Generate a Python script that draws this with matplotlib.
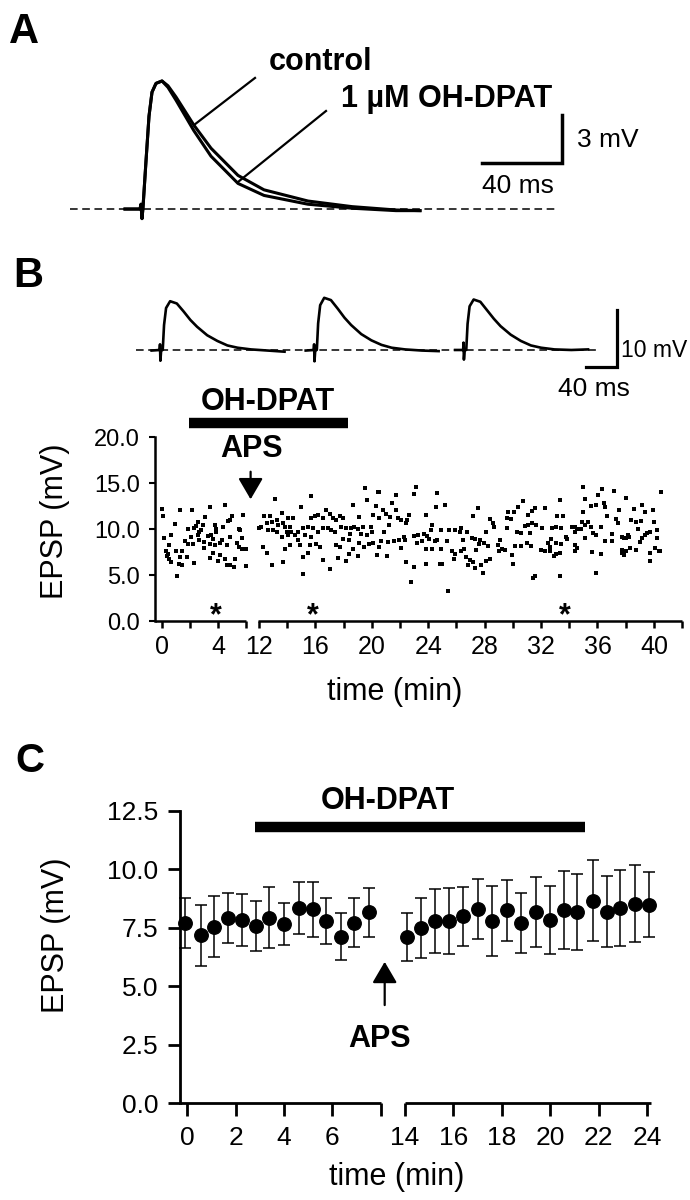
import matplotlib.pyplot as plt

plt.rcParams['font.family'] = ['Liberation Sans', 'DejaVu Sans']

# ---------------- data ----------------
# A: averaged EPSPs, time (ms) relative to the stimulus, amplitude (mV)
a_time = [-8, -0.5, 0, 0.5, 1.0, 2.5, 4, 5.5, 7.5, 10.5, 13.5, 17.5, 26.4, 35, 48.5, 61.5,
          83.5, 105.5, 127.5, 139.5]
a_control = [0, 0, 0.3, -0.6, 0.1, 3.0, 5.8, 7.3, 7.85, 8.0, 7.7, 7.0, 5.25, 3.8, 2.1, 1.2,
             0.5, 0.15, -0.06, -0.1]
a_dpat = [0, 0, 0.3, -0.6, 0.1, 3.0, 5.8, 7.3, 7.85, 8.0, 7.6, 6.8, 4.9, 3.3, 1.6, 0.85,
          0.3, 0.05, -0.1, -0.1]

# B: three sample sweeps
bt_time = [-10.8, -0.5, 0, 0.5, 1.5, 3.5, 5.2, 7.8, 13, 21.6, 30.3, 39, 47.6, 60.6, 73.6,
           86.6, 99.6, 116.9, 138.5, 160]
bt_sweep1 = [-0.1, 0, 1.0, -1.9, 0, 0, 4.4, 7.4, 8.6, 8.2, 6.8, 5.3, 4.1, 2.6, 1.6, 0.8, 0.4, 0.1, -0.1, -0.3]
bt_sweep2 = [-0.1, 0, 1.0, -2.0, 0, 0, 4.7, 7.9, 9.2, 8.8, 7.3, 5.7, 4.4, 2.8, 1.7, 0.9, 0.4, 0.1, -0.1, -0.2]
bt_sweep3 = [0, 0, 1.3, -1.7, 0, 0, 4.6, 7.7, 8.9, 8.5, 7.0, 5.5, 4.2, 2.7, 1.6, 0.8, 0.4, 0.1, 0.0, 0.1]
bt_offsets = [0, 198, 390]

# B: single EPSPs (time min, EPSP mV)
b_pts_0_6 = [
    (0.05, 12.2), (0.12, 11.4), (1.26, 12.1), (2.11, 12.1), (3.44, 12.4), (4.48, 12.6), (5.77, 11.6),
    (4.97, 11.5), (4.85, 11.0), (4.68, 10.9), (3.10, 11.3), (0.92, 10.6), (2.55, 10.8), (2.42, 10.4),
    (2.91, 10.5), (1.87, 10.0), (2.30, 10.1), (2.79, 9.9), (3.76, 10.5), (3.88, 10.0), (4.36, 10.3),
    (5.45, 10.0), (5.58, 9.9), (0.19, 9.1), (0.68, 9.4), (2.06, 9.2), (2.55, 9.4), (3.27, 9.3),
    (3.52, 9.4), (3.64, 9.0), (4.24, 8.8), (4.85, 9.2), (5.70, 9.1), (0.53, 8.3), (1.65, 8.7),
    (1.89, 8.4), (2.18, 8.4), (2.67, 8.8), (3.03, 8.6), (3.39, 8.4), (3.76, 8.3), (4.12, 8.5),
    (4.61, 8.3), (5.33, 8.5), (5.45, 8.1), (5.70, 7.9), (5.95, 7.9), (0.29, 7.6), (0.44, 7.3),
    (1.02, 7.6), (1.45, 7.6), (1.82, 7.0), (3.03, 8.0), (3.64, 7.4), (3.39, 6.9), (4.12, 7.2),
    (4.48, 6.8), (5.21, 6.8), (0.53, 6.8), (0.68, 6.4), (1.26, 7.0), (1.21, 6.2), (1.45, 6.1),
    (2.30, 6.3), (4.00, 6.6), (4.61, 6.1), (4.85, 6.1), (5.09, 5.9), (5.94, 6.0), (1.09, 4.9),
    (0.36, 7.1), (2.67, 9.7), (3.88, 9.7),
]
b_pts_12_18 = [
    (13.13, 13.3), (15.71, 13.6), (14.96, 12.4), (13.65, 11.8), (12.38, 11.4), (12.78, 11.5),
    (12.14, 10.3), (12.54, 10.7), (12.89, 10.8), (13.25, 11.0), (13.36, 10.5), (13.72, 10.7),
    (14.07, 11.2), (14.42, 11.2), (13.83, 10.2), (14.19, 10.3), (12.66, 9.9), (13.01, 9.9),
    (13.25, 9.7), (13.60, 9.2), (13.95, 9.7), (14.30, 9.7), (14.54, 9.4), (14.77, 9.7),
    (15.12, 10.1), (15.48, 10.3), (15.71, 11.2), (15.95, 11.4), (16.18, 11.6), (16.53, 11.2),
    (16.77, 12.1), (17.00, 11.7), (17.24, 11.2), (17.47, 11.0), (17.71, 11.4), (17.94, 11.2),
    (15.83, 10.1), (16.18, 9.7), (16.53, 10.1), (16.89, 10.1), (17.12, 9.9), (17.36, 9.7),
    (17.82, 10.3), (15.24, 9.4), (15.71, 9.2), (14.07, 9.4), (14.77, 8.8), (14.89, 8.3),
    (12.31, 8.1), (12.54, 7.4), (13.83, 7.9), (14.19, 8.3), (15.59, 8.3), (16.06, 8.4),
    (16.30, 8.1), (17.47, 8.3), (17.71, 8.1), (17.94, 9.0), (15.12, 7.0), (15.48, 7.4),
    (12.89, 6.1), (13.72, 6.4), (16.53, 6.7), (17.00, 5.7), (17.59, 6.9), (15.12, 5.1), (12.00, 10.1),
]
b_pts_18_25 = [
    (19.54, 14.5), (20.41, 14.1), (20.52, 14.0), (21.70, 13.7), (23.11, 14.6), (22.99, 13.8),
    (24.63, 13.9), (19.63, 13.2), (21.46, 12.9), (18.69, 12.6), (20.29, 12.5), (20.76, 12.1),
    (20.10, 11.6), (21.00, 11.7), (21.70, 12.1), (24.52, 12.4), (23.86, 11.6), (19.12, 11.3),
    (20.48, 11.2), (21.28, 11.3), (21.82, 11.2), (22.05, 11.0), (22.52, 11.0), (22.64, 11.6),
    (22.40, 10.7), (21.18, 10.5), (24.23, 10.5), (18.18, 10.1), (18.53, 10.1), (18.76, 10.2),
    (19.00, 10.0), (19.35, 10.3), (19.94, 10.2), (20.01, 9.7), (19.23, 9.5), (19.63, 9.4),
    (18.46, 9.5), (20.88, 9.7), (24.16, 9.9), (22.99, 9.3), (23.29, 9.4), (23.69, 9.5),
    (23.93, 9.3), (24.04, 9.0), (22.28, 9.2), (22.36, 8.8), (21.93, 8.8), (22.05, 8.0),
    (18.41, 8.8), (19.07, 8.5), (19.47, 8.1), (19.82, 8.4), (20.06, 8.5), (20.52, 8.1),
    (20.64, 8.7), (21.11, 8.6), (21.58, 8.7), (23.22, 8.5), (23.53, 8.7), (23.81, 7.9),
    (24.23, 7.9), (24.47, 8.7), (24.63, 8.8), (18.65, 7.9), (18.37, 7.3), (18.18, 6.6),
    (19.00, 7.1), (20.34, 7.2), (21.04, 7.1), (22.40, 6.4), (22.99, 5.9), (23.81, 6.2),
    (22.76, 4.3), (24.86, 6.2),
]
b_pts_25_31 = [
    (25.22, 12.6), (27.52, 12.3), (27.17, 11.4), (30.69, 13.1), (30.34, 12.4), (29.68, 11.9),
    (30.08, 11.9), (28.39, 11.1), (28.58, 10.7), (29.61, 11.2), (29.85, 11.1), (31.09, 11.6),
    (31.39, 12.0), (24.87, 9.9), (25.45, 9.9), (25.92, 9.9), (26.32, 10.1), (26.23, 9.7),
    (26.74, 9.7), (28.11, 9.7), (28.67, 10.2), (29.56, 10.1), (30.27, 9.7), (30.55, 9.6),
    (30.85, 10.4), (31.09, 10.5), (31.39, 10.7), (31.21, 9.6), (27.10, 9.1), (27.33, 8.9),
    (27.64, 8.8), (27.92, 8.5), (28.27, 8.2), (25.34, 8.7), (26.46, 8.8), (24.87, 7.9),
    (25.69, 7.6), (25.92, 7.3), (26.32, 7.6), (26.56, 7.9), (25.81, 6.8), (27.57, 8.4),
    (29.09, 8.8), (28.97, 8.3), (29.21, 7.9), (29.04, 7.6), (29.44, 7.8), (29.91, 7.2),
    (30.15, 8.2), (30.55, 8.2), (31.02, 8.5), (31.32, 8.2), (26.70, 7.0), (26.98, 6.7),
    (26.79, 6.1), (27.17, 6.5), (27.33, 5.8), (27.73, 6.1), (28.11, 6.6), (28.39, 6.8),
    (27.87, 5.2), (27.40, 7.8), (24.99, 6.2), (30.03, 6.2), (25.38, 3.3), (31.44, 4.7),
]
b_pts_31_38 = [
    (34.96, 14.6), (36.30, 14.4), (37.14, 14.2), (33.31, 13.2), (35.12, 13.3), (36.06, 13.7),
    (38.01, 13.4), (35.54, 12.5), (35.90, 12.6), (36.48, 12.9), (36.53, 12.4), (37.54, 12.1),
    (34.96, 11.9), (31.60, 12.3), (32.31, 12.3), (33.11, 11.4), (33.55, 11.4), (36.68, 11.4),
    (35.31, 10.8), (34.89, 10.8), (35.12, 10.5), (37.31, 11.1), (32.03, 10.1), (32.78, 10.1),
    (33.09, 10.3), (33.44, 10.1), (34.19, 10.2), (34.42, 10.3), (34.56, 10.0), (34.85, 10.0),
    (35.56, 10.2), (36.26, 10.3), (37.43, 10.7), (31.63, 10.5), (35.67, 9.6), (35.90, 9.4),
    (37.00, 9.5), (37.71, 9.2), (37.89, 9.1), (32.68, 8.9), (33.79, 9.2), (33.86, 8.9),
    (34.37, 9.7), (35.08, 9.1), (36.53, 8.7), (37.00, 8.7), (32.50, 8.5), (33.09, 8.5),
    (33.39, 8.4), (34.37, 8.3), (34.56, 8.0), (32.61, 8.1), (31.98, 7.8), (32.31, 7.6),
    (32.61, 7.6), (32.92, 7.1), (33.09, 7.3), (33.32, 7.4), (34.37, 7.6), (35.59, 7.5),
    (36.26, 7.3), (37.71, 7.8), (37.85, 7.2), (31.56, 4.9), (33.37, 4.9), (35.90, 5.2),
]
b_pts_38_41 = [
    (40.52, 14.0), (38.01, 13.4), (37.54, 12.1), (38.60, 12.2), (39.19, 12.6), (39.35, 11.9),
    (39.96, 12.1), (38.37, 11.0), (38.72, 10.8), (39.07, 10.9), (40.01, 10.8), (38.88, 10.0),
    (40.24, 9.9), (38.01, 9.1), (38.17, 9.4), (38.25, 9.2), (39.49, 9.6), (39.72, 9.7),
    (39.35, 9.4), (39.19, 9.1), (40.20, 9.1), (38.99, 8.6), (38.32, 8.0), (38.72, 7.8),
    (38.01, 7.6), (37.71, 7.4), (40.05, 8.0), (40.36, 7.6), (39.72, 7.4), (39.72, 6.6), (40.43, 7.6),
]
b_drug = (1.9, 18.3)          # OH-DPAT application (min)
b_aps = 6.3                   # APS application (min, in the gap)
b_star_times = [3.8, 15.8, 33.7]

# C: mean EPSP +- SEM
c_time = [-0.1, 0.55, 1.1, 1.7, 2.27, 2.85, 3.4, 4.0, 4.6, 5.2, 5.75, 6.36, 6.9, 7.5,
          14.07, 14.67, 15.25, 15.8, 16.4, 17.0, 17.6, 18.2, 18.8, 19.4, 20.0, 20.55,
          21.1, 21.75, 22.35, 22.9, 23.5, 24.07]
c_mean = [7.72, 7.19, 7.55, 7.93, 7.83, 7.59, 7.93, 7.66, 8.36, 8.29, 7.79, 7.12, 7.73, 8.16,
          7.12, 7.50, 7.80, 7.79, 8.00, 8.30, 7.80, 8.26, 7.72, 8.19, 7.83, 8.26,
          8.19, 8.66, 8.19, 8.36, 8.54, 8.50]
c_sem = [1.08, 1.30, 1.30, 1.07, 1.10, 1.08, 1.30, 0.91, 1.12, 1.18, 0.99, 1.00, 1.03, 1.03,
         1.02, 1.29, 1.37, 1.42, 1.27, 1.28, 1.50, 1.31, 1.28, 1.50, 1.46, 1.68,
         1.62, 1.73, 1.52, 1.63, 1.65, 1.40]
c_drug = (2.82, 21.45)
c_aps = 13.16

# ---------------- layout helpers ----------------
W, H = 690, 1200


def box(x0, y0, x1, y1):
    return [x0 / W, 1 - y1 / H, (x1 - x0) / W, (y1 - y0) / H]


def xb(t):
    # broken time axis of B: 6-12 min collapsed
    return t if t < 9 else t - 5.1


def xc(t):
    # broken time axis of C: 8-14 min collapsed
    return t if t < 11 else t - 5.0


fig = plt.figure(figsize=(6.9, 12), dpi=100)
big = 22
dash = (0, (5, 3))

# ---------------- panel A ----------------
axA = fig.add_axes(box(60, 40, 660, 230))
axA.set_xlim(-40.5, 259.5)
axA.set_ylim(-1.31, 10.56)
axA.axis('off')
axA.plot([-35.5, 208], [0, 0], color='k', lw=1.1, ls=dash)
axA.plot(a_time, a_control, color='k', lw=2.2)
axA.plot(a_time, a_dpat, color='k', lw=2.2)
axA.plot([26.5, 57], [5.25, 8.19], color='k', lw=1.6)
axA.plot([48.5, 92.5], [1.69, 6.125], color='k', lw=1.6)
axA.text(64, 8.69, 'control', fontsize=big, fontweight='bold', va='baseline')
axA.text(100, 6.39, '1 µM OH-DPAT', fontsize=big, fontweight='bold', va='baseline')
sx, sy = 210.5, 2.875
axA.plot([sx - 40, sx, sx], [sy, sy, sy + 3], color='k', lw=2.5, solid_joinstyle='miter')
axA.text(sx + 7.5, 3.9, '3 mV', fontsize=19, va='baseline')
axA.text(sx - 40, 0.98, '40 ms', fontsize=19, va='baseline')
fig.text(9 / W, 1 - 43 / H, 'A', fontsize=30, fontweight='bold', va='baseline')

# ---------------- panel B sweeps ----------------
axT = fig.add_axes(box(120, 285, 690, 400))
axT.set_xlim(-51.4, 681)
axT.set_ylim(-8.82, 11.46)
axT.axis('off')
axT.plot([-31, 562.7], [0, 0], color='k', lw=1.1, ls=dash)
for off, sweep in zip(bt_offsets, [bt_sweep1, bt_sweep2, bt_sweep3]):
    axT.plot([t + off for t in bt_time], sweep, color='k', lw=1.9)
bx, by = 587.4, -3.0
axT.plot([bx - 40, bx, bx], [by, by, by + 10], color='k', lw=2.3, solid_joinstyle='miter')
axT.text(bx + 4.5, -1.2, '10 mV', fontsize=16.5, va='baseline', clip_on=False)
axT.text(bx - 75.8, -8.2, '40 ms', fontsize=19, va='baseline', clip_on=False)
fig.text(13 / W, 1 - 287 / H, 'B', fontsize=30, fontweight='bold', va='baseline')

# ---------------- panel B scatter ----------------
axB = fig.add_axes(box(155, 437.3, 683.5, 621.3))
pts = b_pts_0_6 + b_pts_12_18 + b_pts_18_25 + b_pts_25_31 + b_pts_31_38 + b_pts_38_41
axB.plot([xb(t) for t, v in pts], [v for t, v in pts], 's', ms=2.8, mew=0, color='k')
axB.set_xlim(-0.48, 37.0)
axB.set_ylim(0, 20)
for s in ['top', 'right', 'bottom']:
    axB.spines[s].set_visible(False)
axB.spines['left'].set_linewidth(1.8)
axB.plot([-0.48, xb(6)], [0, 0], color='k', lw=1.8, clip_on=False, solid_capstyle='butt')
axB.plot([xb(11.95), xb(42)], [0, 0], color='k', lw=1.8, clip_on=False, solid_capstyle='butt')
bt = [0, 2, 4, 6] + list(range(12, 43, 2))
axB.set_xticks([xb(t) for t in bt])
axB.set_xticklabels([str(t) if t in (0, 4) or (t >= 12 and t % 4 == 0 and t <= 40) else '' for t in bt])
axB.set_yticks([0, 5, 10, 15, 20])
axB.set_yticklabels(['%.1f' % v for v in [0, 5, 10, 15, 20]])
axB.tick_params(axis='x', length=5, width=1.8, pad=5, labelsize=18)
axB.tick_params(axis='y', length=4, width=1.5, pad=7, labelsize=17)
axB.plot([xb(b_drug[0]), xb(b_drug[1])], [21.57, 21.57], color='k', lw=7.5,
         solid_capstyle='butt', clip_on=False)
axB.text(7.54, 23.0, 'OH-DPAT', fontsize=big, fontweight='bold', ha='center', va='baseline')
axB.annotate('', xy=(b_aps, 13.26), xytext=(b_aps, 16.26),
             arrowprops=dict(arrowstyle='-|>,head_length=0.65,head_width=0.38', color='k',
                             lw=1.6, mutation_scale=20, shrinkA=0, shrinkB=0))
axB.text(b_aps + 0.05, 17.9, 'APS', fontsize=big, fontweight='bold', ha='center', va='baseline')
for t in b_star_times:
    axB.text(xb(t), -0.3, '*', fontsize=big, fontweight='bold', ha='center', va='baseline',
             clip_on=False)
fig.text(55 / W, 1 - 521 / H, 'EPSP (mV)', fontsize=big, rotation=90, ha='center', va='center')
fig.text(395 / W, 1 - 692 / H, 'time (min)', fontsize=big, ha='center', va='center')

# ---------------- panel C ----------------
axC = fig.add_axes(box(179.7, 811, 651.4, 1103.3))
axC.errorbar([xc(t) for t in c_time], c_mean, yerr=c_sem, fmt='o', ms=9.7, color='k',
             ecolor='k', elinewidth=1.1, capsize=4.5, capthick=1.1, clip_on=False)
axC.set_xlim(-0.31, 19.18)
axC.set_ylim(0, 12.5)
for s in ['top', 'right', 'bottom']:
    axC.spines[s].set_visible(False)
axC.spines['left'].set_linewidth(2.0)
axC.plot([-0.31, xc(8)], [0, 0], color='k', lw=2.0, clip_on=False, solid_capstyle='butt')
axC.plot([xc(14), xc(24.15)], [0, 0], color='k', lw=2.0, clip_on=False, solid_capstyle='butt')
ct = [0, 2, 4, 6, 8] + list(range(14, 25, 2))
axC.set_xticks([xc(t) for t in ct])
axC.set_xticklabels(['' if t == 8 else str(t) for t in ct])
yt = [0, 2.5, 5, 7.5, 10, 12.5]
axC.set_yticks(yt)
axC.set_yticklabels(['%.1f' % v for v in yt])
axC.tick_params(axis='x', length=9, width=2.0, pad=7, labelsize=19)
axC.tick_params(axis='y', length=9, width=2.0, pad=6.5, labelsize=19)
axC.plot([xc(c_drug[0]), xc(c_drug[1])], [11.8, 11.8], color='k', lw=7.5,
         solid_capstyle='butt', clip_on=False)
axC.text(8.3, 12.57, 'OH-DPAT', fontsize=big, fontweight='bold', ha='center', va='baseline',
         clip_on=False)
axC.annotate('', xy=(xc(c_aps), 6.05), xytext=(xc(c_aps), 4.2),
             arrowprops=dict(arrowstyle='-|>,head_length=0.65,head_width=0.38', color='k',
                             lw=1.6, mutation_scale=20, shrinkA=0, shrinkB=0))
axC.text(7.95, 2.42, 'APS', fontsize=big, fontweight='bold', ha='center', va='baseline')
fig.text(56 / W, 1 - 935 / H, 'EPSP (mV)', fontsize=big, rotation=90, ha='center', va='center')
fig.text(397 / W, 1 - 1177 / H, 'time (min)', fontsize=big, ha='center', va='center')
fig.text(15 / W, 1 - 772 / H, 'C', fontsize=29, fontweight='bold', va='baseline')

fig.savefig('out.png', dpi=100)
